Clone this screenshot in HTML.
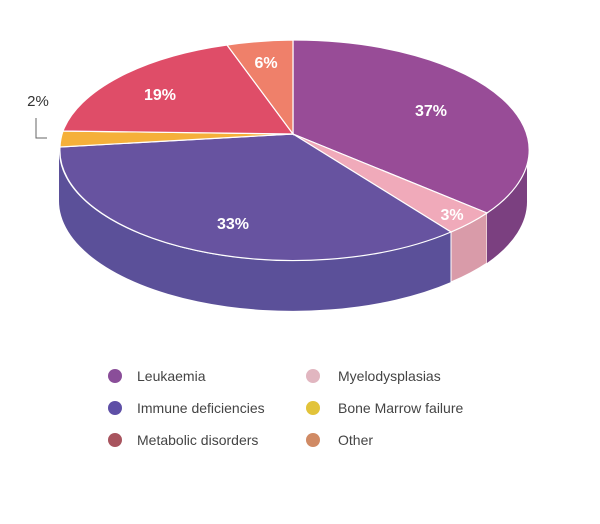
<!DOCTYPE html>
<html><head><meta charset="utf-8"><style>
body{margin:0;background:#fff;}
svg text{font-family:"Liberation Sans",sans-serif;}
</style></head><body>
<svg width="600" height="519" viewBox="0 0 600 519">
<!-- sides -->
<path d="M59,150 A234,110 0 0,0 451,232 L451,282 A234,110 0 0,1 59,200 Z" fill="#5b5099"/>
<path d="M451,232 A234,110 0 0,0 487,213 L487,263 A234,110 0 0,1 451,282 Z" fill="#d99ba9" stroke="#fff" stroke-width="1"/>
<path d="M487,213 A234,110 0 0,0 527,150 L527,200 A234,110 0 0,1 487,263 Z" fill="#7b4080"/>
<!-- top -->
<g stroke="#fff" stroke-width="1.2">
<path d="M293,134 L293,40 A234,110 0 0,1 487,213 Z" fill="#984c97"/>
<path d="M293,134 L487,213 A234,110 0 0,1 451,232 Z" fill="#f0aaba"/>
<path d="M293,134 L451,232 A234,110 0 0,1 60,147 Z" fill="#6753a0"/>
<path d="M293,134 L60,147 A234,110 0 0,1 63,131 Z" fill="#f5b03a"/>
<path d="M293,134 L63,131 A234,110 0 0,1 227,45 Z" fill="#df4d68"/>
<path d="M293,134 L227,45 A234,110 0 0,1 293,40 Z" fill="#ef806a"/>
</g>
<g fill="#fff" font-size="16" font-weight="bold" text-anchor="middle">
<text x="431" y="116">37%</text>
<text x="452" y="220">3%</text>
<text x="233" y="229">33%</text>
<text x="160" y="100">19%</text>
<text x="266" y="68">6%</text>
</g>
<text x="38" y="106" font-size="15" fill="#333" text-anchor="middle">2%</text>
<path d="M36,118 V138 H47" fill="none" stroke="#666" stroke-width="1"/>
<g font-size="14" fill="#444">
<circle cx="115" cy="376" r="7" fill="#8a4e99"/><text x="137" y="381">Leukaemia</text>
<circle cx="115" cy="408" r="7" fill="#5e4fa6"/><text x="137" y="413">Immune deficiencies</text>
<circle cx="115" cy="440" r="7" fill="#a8545e"/><text x="137" y="445">Metabolic disorders</text>
<circle cx="313" cy="376" r="7" fill="#e1b6c0"/><text x="338" y="381">Myelodysplasias</text>
<circle cx="313" cy="408" r="7" fill="#e2c33a"/><text x="338" y="413">Bone Marrow failure</text>
<circle cx="313" cy="440" r="7" fill="#d08a64"/><text x="338" y="445">Other</text>
</g>
</svg>
</body></html>
